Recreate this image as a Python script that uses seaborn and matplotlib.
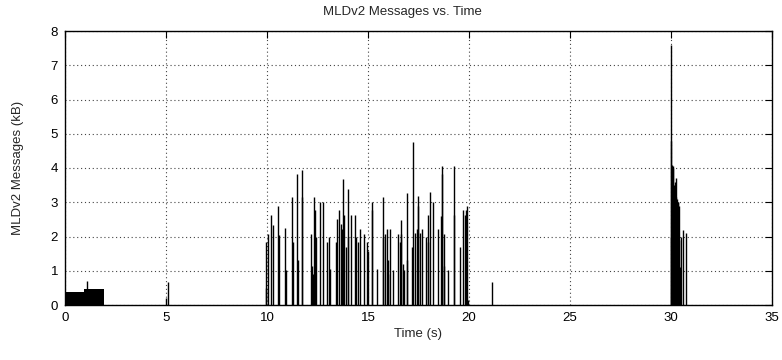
import matplotlib
matplotlib.use("Agg")
import matplotlib.pyplot as plt
import seaborn as sns
import pandas as pd

# ---- data ----
# solid low-level block at the start (left edge, width, height)
block_left = [0.0, 0.94]
block_width = [0.94, 1.01]
block_height = [0.38, 0.46]

# isolated impulses near start / 5 s / 21 s
early_t = [1.08, 4.98, 5.08, 21.14]
early_h = [0.70, 0.20, 0.68, 0.68]

# burst between ~10 s and ~20 s
burst_t = [9.95, 9.97, 10.07, 10.18, 10.31, 10.56, 10.58, 10.91, 10.96, 11.22,
           11.30, 11.49, 11.51, 11.72, 11.74, 12.18, 12.21, 12.26, 12.31, 12.36,
           12.43, 12.62, 12.79, 12.99, 13.07, 13.10, 13.40, 13.45, 13.55, 13.66,
           13.71, 13.75, 13.83, 13.91, 13.99, 14.01, 14.14, 14.37, 14.41, 14.50,
           14.62, 14.79, 14.97, 15.00, 15.18, 15.21, 15.43, 15.73, 15.75, 15.84,
           15.92, 15.97, 16.01, 16.09, 16.22, 16.47, 16.58, 16.63, 16.65, 16.72,
           16.80, 16.91, 16.95, 17.16, 17.24, 17.34, 17.43, 17.46, 17.48, 17.57,
           17.66, 17.87, 17.95, 17.99, 18.05, 18.23, 18.45, 18.63, 18.66, 18.68,
           18.75, 18.78, 18.94, 19.24, 19.26, 19.55, 19.72, 19.79, 19.83, 19.90,
           19.97]
burst_h = [0.50, 1.83, 2.07, 2.63, 2.34, 2.90, 2.05, 2.25, 1.03, 3.15,
           1.83, 3.83, 1.30, 3.95, 3.15, 2.07, 1.15, 0.90, 3.15, 2.76,
           1.98, 3.02, 3.02, 1.83, 1.98, 1.05, 1.83, 2.50, 2.76, 2.37,
           2.22, 3.68, 2.63, 1.70, 3.39, 1.98, 2.63, 2.63, 1.98, 1.83,
           2.21, 2.07, 1.83, 1.59, 3.02, 2.76, 1.05, 3.15, 1.98, 2.07,
           2.21, 1.30, 0.90, 2.21, 1.02, 2.07, 1.83, 2.49, 2.07, 1.20,
           1.02, 3.28, 1.30, 1.70, 4.76, 2.11, 2.21, 3.19, 2.90, 2.11,
           2.21, 1.98, 1.83, 2.63, 3.31, 3.02, 2.21, 2.60, 4.07, 3.83,
           2.07, 1.15, 1.02, 4.07, 2.63, 1.70, 2.76, 2.63, 2.76, 2.90,
           0.15]

# burst at ~30 s
late_t = [29.98, 30.00, 30.02, 30.04, 30.06, 30.08, 30.10, 30.12, 30.14, 30.16,
          30.18, 30.20, 30.22, 30.24, 30.26, 30.28, 30.30, 30.32, 30.34, 30.36,
          30.38, 30.40, 30.44, 30.48, 30.58, 30.74]
late_h = [7.60, 4.80, 2.00, 4.10, 1.90, 4.00, 2.00, 4.05, 3.50, 1.90,
          3.60, 3.10, 1.80, 3.70, 3.15, 2.00, 3.10, 1.80, 3.00, 3.00,
          1.90, 2.90, 1.10, 2.00, 2.20, 2.10]

x_ticks = [0, 5, 10, 15, 20, 25, 30, 35]
y_ticks = [0, 1, 2, 3, 4, 5, 6, 7, 8]

title = "MLDv2 Messages vs. Time"
xlabel = "Time (s)"
ylabel = "MLDv2 Messages (kB)"

# ---- style ----
sns.set_style("white")
plt.rcParams['font.family'] = ['Liberation Sans', 'DejaVu Sans']
plt.rcParams['font.size'] = 9.5

impulses = pd.DataFrame({
    "t": early_t + burst_t + late_t,
    "h": early_h + burst_h + late_h,
})

fig = plt.figure(figsize=(7.82, 3.60), dpi=100)
ax = fig.add_axes([65 / 782, 55 / 360, 707 / 782, 274 / 360])

ax.bar(block_left, block_height, width=block_width, align='edge',
       color='black', edgecolor='black', linewidth=0)
ax.vlines(impulses["t"], 0, impulses["h"], colors='black', linewidth=1.0)

ax.set_xlim(0, 35)
ax.set_ylim(0, 8)
ax.set_xticks(x_ticks)
ax.set_yticks(y_ticks)
ax.grid(True, color='#444444', linestyle=(0, (1, 2.5)), linewidth=0.8)
ax.set_axisbelow(True)
ax.tick_params(direction='in', length=5, width=0.8, top=True, right=True,
               labelsize=9.5, colors='black', pad=5)
for s in ax.spines.values():
    s.set_visible(True)
    s.set_color('black')
    s.set_linewidth(1.0)

ax.set_xlabel(xlabel, fontsize=9.5, labelpad=3)
ax.set_ylabel(ylabel, fontsize=9.5, labelpad=19)
fig.text(402 / 782, 1 - 12 / 360, title, ha='center', va='center', fontsize=9.5)

fig.savefig("out.png", dpi=100)
